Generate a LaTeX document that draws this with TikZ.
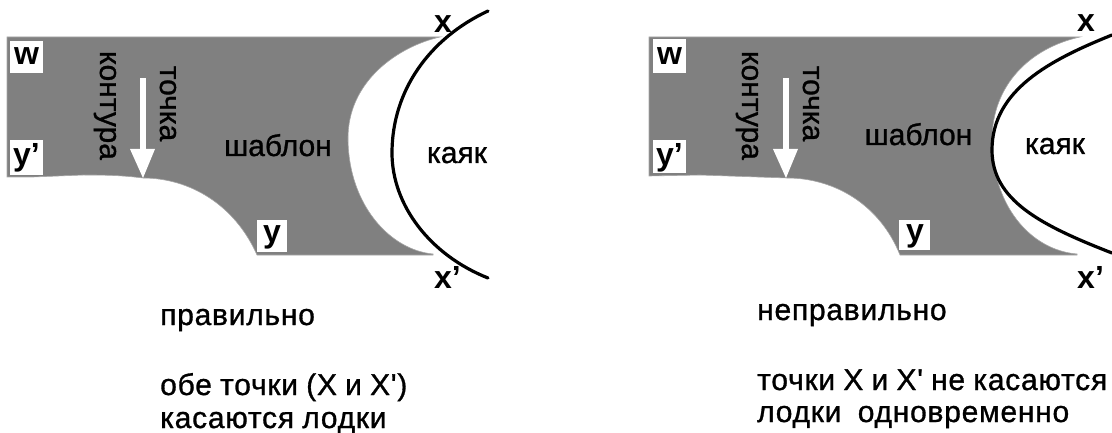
\documentclass[tikz,border=0pt]{standalone}
\usepackage{fontspec}
\setmainfont{Liberation Sans}
\newfontfamily\notefont[FakeBold=1,LetterSpace=2.5,WordSpace=0.9]{Liberation Sans}
\newfontfamily\labfont[FakeBold=1]{Liberation Sans}
\tikzset{
 tmpl/.style={fill=black!50,draw=black!35,line width=0.6pt},
 kayak/.style={draw=black,line width=3.2pt,line cap=round},
 tagbox/.style={fill=white},
 tagtext/.style={inner sep=0pt,anchor=base,font=\bfseries\fontsize{32}{32}\selectfont},
 lab/.style={font=\labfont\fontsize{30}{30}\selectfont,inner sep=0pt,anchor=base},
 side/.style={lab,rotate=-90},
 note/.style={font=\notefont\fontsize{30}{31}\selectfont,inner sep=0pt,anchor=base west},
 bigx/.style={font=\bfseries\fontsize{32}{32}\selectfont,inner sep=0pt,anchor=base west},
 pointer/.style={draw=white,line width=5.5pt},
 pointerhead/.style={fill=white}
}
\begin{document}
\begin{tikzpicture}[x=1pt,y=-1pt]
\useasboundingbox (0,0) rectangle (1112,433);
% left template
\path[tmpl] (7,37) -- (440,37)
 .. controls (400,46) and (347,80) .. (348,140)
 .. controls (349,205) and (390,250) .. (433,254)
 -- (433,255) -- (257,255)
 .. controls (235,205) and (190,178) .. (143,178)
 .. controls (120,175) and (100,175) .. (83,175)
 -- (33,177) -- (7,177) -- cycle;
\draw[kayak] (488,11) .. controls (430,38) and (392,90) .. (392,153) .. controls (392,205) and (430,255) .. (488,278);
% right template
\path[tmpl] (649,37) -- (1080,37)
 .. controls (1030,48) and (992,85) .. (992,140)
 .. controls (992,205) and (1030,250) .. (1077,254)
 -- (1077,255) -- (900,255)
 .. controls (880,205) and (835,178) .. (787,178)
 -- (700,175) -- (649,176) -- cycle;
\draw[kayak] (1112,35) .. controls (1050,60) and (992,90) .. (992,150) .. controls (992,200) and (1040,225) .. (1112,253);
% pointers
\coordinate (a1) at (143,78); \coordinate (a2) at (143,152);
\draw[pointer] (a1) -- (a2);
\fill[pointerhead] (130,149) -- (155,149) -- (143,178) -- cycle;
\coordinate (b1) at (786,78); \coordinate (b2) at (786,152);
\draw[pointer] (b1) -- (b2);
\fill[pointerhead] (773,149) -- (798,149) -- (786,178) -- cycle;
% tags
\path[tagbox] (10,41) rectangle (43,73);
\path[tagbox] (10,140) rectangle (43,175);
\path[tagbox] (257,220) rectangle (287,252);
\path[tagbox] (653,39) rectangle (686,73);
\path[tagbox] (653,140) rectangle (686,173);
\path[tagbox] (899,220) rectangle (930,250);
\node[tagtext] (w1) at (26.5,65) {w};
\node[tagtext] (y1) at (26.5,166) {y'};
\node[tagtext] (yy1) at (272,243) {y};
\node[tagtext] (w2) at (669.5,65) {w};
\node[tagtext] (y2) at (669.5,166) {y'};
\node[tagtext] (yy2) at (915,241) {y};
% labels
\node[side] (k1) at (100,105.5) {контура};
\node[side] (t1) at (160,103.5) {точка};
\node[lab] (s1) at (278,156) {шаблон};
\node[lab] (c1) at (457,163) {каяк};
\node[side] (k2) at (742,105.5) {контура};
\node[side] (t2) at (803,103.5) {точка};
\node[lab] (s2) at (918.5,145) {шаблон};
\node[lab] (c2) at (1055,154) {каяк};
\node[bigx] (x1) at (434,33) {x};
\node[bigx] (x2) at (434,288) {x'};
\node[bigx] (x3) at (1077,32) {x};
\node[bigx] (x4) at (1077,288) {x'};
% notes
\node[note] (n1) at (160,325) {правильно};
\node[note] (n2) at (160,395) {обе точки (X и X')};
\node[note] (n3) at (160,428) {касаются лодки};
\node[note] (n4) at (757,320) {неправильно};
\node[note] (n5) at (757,390) {точки X и X' не касаются};
\node[note] (n6) at (757,422) {лодки\ \ одновременно};
\end{tikzpicture}
\end{document}
